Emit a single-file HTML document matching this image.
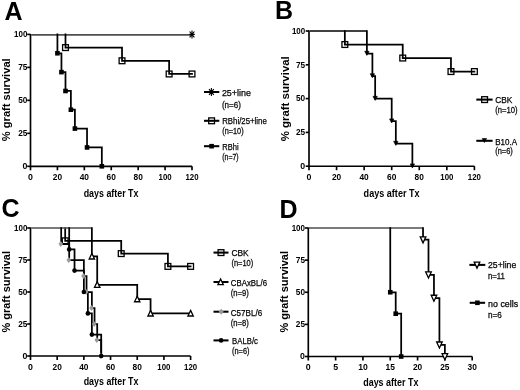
<!DOCTYPE html><html><head><meta charset="utf-8"><style>html,body{margin:0;padding:0;background:#fff;}svg{display:block;will-change:transform;filter:blur(0.4px);}text{font-family:"Liberation Sans",sans-serif;}</style></head><body>
<svg width="520" height="390" viewBox="0 0 520 390">
<rect width="520" height="390" fill="#fff"/>
<text x="4.4" y="20.2" font-size="25" font-weight="bold">A</text>
<path d="M30.5 33.9V166.3H192" stroke="#000" stroke-width="1.65" fill="none"/>
<path d="M27.2 166.3H30.5" stroke="#000" stroke-width="1.65"/>
<path d="M27.2 133.33H30.5" stroke="#000" stroke-width="1.65"/>
<path d="M27.2 100.35H30.5" stroke="#000" stroke-width="1.65"/>
<path d="M27.2 67.38H30.5" stroke="#000" stroke-width="1.65"/>
<path d="M27.2 34.4H30.5" stroke="#000" stroke-width="1.65"/>
<path d="M30.5 166.3V170.3" stroke="#000" stroke-width="1.65"/>
<path d="M57.42 166.3V170.3" stroke="#000" stroke-width="1.65"/>
<path d="M84.33 166.3V170.3" stroke="#000" stroke-width="1.65"/>
<path d="M111.25 166.3V170.3" stroke="#000" stroke-width="1.65"/>
<path d="M138.17 166.3V170.3" stroke="#000" stroke-width="1.65"/>
<path d="M165.08 166.3V170.3" stroke="#000" stroke-width="1.65"/>
<path d="M192 166.3V170.3" stroke="#000" stroke-width="1.65"/>
<text x="22.5" y="169.07" font-size="9.8" font-weight="bold" textLength="4.9" lengthAdjust="spacingAndGlyphs">0</text>
<text x="18.2" y="136.09" font-size="9.8" font-weight="bold" textLength="9.2" lengthAdjust="spacingAndGlyphs">25</text>
<text x="18.2" y="103.12" font-size="9.8" font-weight="bold" textLength="9.2" lengthAdjust="spacingAndGlyphs">50</text>
<text x="18.2" y="70.14" font-size="9.8" font-weight="bold" textLength="9.2" lengthAdjust="spacingAndGlyphs">75</text>
<text x="14.1" y="37.17" font-size="9.8" font-weight="bold" textLength="13.3" lengthAdjust="spacingAndGlyphs">100</text>
<text x="28.05" y="180.04" font-size="9.8" font-weight="bold" textLength="4.9" lengthAdjust="spacingAndGlyphs">0</text>
<text x="52.77" y="180.04" font-size="9.8" font-weight="bold" textLength="9.3" lengthAdjust="spacingAndGlyphs">20</text>
<text x="79.68" y="180.04" font-size="9.8" font-weight="bold" textLength="9.3" lengthAdjust="spacingAndGlyphs">40</text>
<text x="106.6" y="180.04" font-size="9.8" font-weight="bold" textLength="9.3" lengthAdjust="spacingAndGlyphs">60</text>
<text x="133.52" y="180.04" font-size="9.8" font-weight="bold" textLength="9.3" lengthAdjust="spacingAndGlyphs">80</text>
<text x="158.53" y="180.04" font-size="9.8" font-weight="bold" textLength="13.1" lengthAdjust="spacingAndGlyphs">100</text>
<text x="185.45" y="180.04" font-size="9.8" font-weight="bold" textLength="13.1" lengthAdjust="spacingAndGlyphs">120</text>
<text x="83.7" y="197" font-size="10" font-weight="bold" textLength="54.8" lengthAdjust="spacingAndGlyphs">days after Tx</text>
<text x="10.2" y="141.2" font-size="10.8" font-weight="bold" textLength="82.9" lengthAdjust="spacingAndGlyphs" transform="rotate(-90 10.2 141.2)">% graft survival</text>
<path d="M31.2 34.9H192" stroke="#4f4f4f" stroke-width="1.7" fill="none"/>
<path d="M65.49 34.4L65.49 47.59L122.02 47.59L122.02 60.78L169.12 60.78L169.12 73.97L192 73.97" stroke="#000" stroke-width="1.75" fill="none" stroke-linejoin="miter" stroke-linecap="square"/>
<path d="M57.42 34.4L57.42 53.26L61.45 53.26L61.45 72.12L65.49 72.12L65.49 90.99L70.88 90.99L70.88 109.71L74.91 109.71L74.91 128.58L87.03 128.58L87.03 147.44L101.83 147.44L101.83 166.3" stroke="#000" stroke-width="1.75" fill="none" stroke-linejoin="miter" stroke-linecap="square"/>
<path d="M192 30.4V38.4M189.2 34.4H194.8M189.6 31.5L194.4 37.3M194.4 31.5L189.6 37.3" stroke="#000" stroke-width="1.1" fill="none"/>
<circle cx="192" cy="34.4" r="1.1" fill="#000"/>
<rect x="62.59" y="44.69" width="5.8" height="5.8" fill="none" stroke="#000" stroke-width="1.3"/>
<rect x="119.12" y="57.88" width="5.8" height="5.8" fill="none" stroke="#000" stroke-width="1.3"/>
<rect x="166.22" y="71.07" width="5.8" height="5.8" fill="none" stroke="#000" stroke-width="1.3"/>
<rect x="189.1" y="71.07" width="5.8" height="5.8" fill="none" stroke="#000" stroke-width="1.3"/>
<rect x="55.12" y="50.96" width="4.6" height="4.6" fill="#000"/>
<rect x="59.15" y="69.82" width="4.6" height="4.6" fill="#000"/>
<rect x="63.19" y="88.69" width="4.6" height="4.6" fill="#000"/>
<rect x="68.58" y="107.41" width="4.6" height="4.6" fill="#000"/>
<rect x="72.61" y="126.28" width="4.6" height="4.6" fill="#000"/>
<rect x="84.73" y="145.14" width="4.6" height="4.6" fill="#000"/>
<rect x="99.53" y="164" width="4.6" height="4.6" fill="#000"/>
<path d="M204 92H219.3" stroke="#000" stroke-width="2.05"/>
<path d="M211.4 88V96M208.6 92H214.2M209 89.1L213.8 94.9M213.8 89.1L209 94.9" stroke="#000" stroke-width="1.1" fill="none"/>
<circle cx="211.4" cy="92" r="1.1" fill="#000"/>
<text x="221.9" y="95.6" font-size="9.4" textLength="29" lengthAdjust="spacingAndGlyphs" stroke="#000" stroke-width="0.25">25+line</text>
<text x="221.9" y="107.7" font-size="8.5" fill="#111" textLength="19" lengthAdjust="spacingAndGlyphs" stroke="#111" stroke-width="0.3">(n=6)</text>
<path d="M204 120.8H219.3" stroke="#000" stroke-width="2.05"/>
<rect x="208.7" y="117.9" width="5.8" height="5.8" fill="none" stroke="#000" stroke-width="1.3"/>
<text x="222.2" y="123.7" font-size="9.4" textLength="44.6" lengthAdjust="spacingAndGlyphs" stroke="#000" stroke-width="0.25">RBhi/25+line</text>
<text x="222.2" y="133.8" font-size="8.5" fill="#111" textLength="21.4" lengthAdjust="spacingAndGlyphs" stroke="#111" stroke-width="0.3">(n=10)</text>
<path d="M204 146.2H219.3" stroke="#000" stroke-width="2.05"/>
<rect x="209.3" y="143.9" width="4.6" height="4.6" fill="#000"/>
<text x="222.3" y="149.8" font-size="9.4" textLength="16.3" lengthAdjust="spacingAndGlyphs" stroke="#000" stroke-width="0.25">RBhi</text>
<text x="222.3" y="159.7" font-size="8.5" fill="#111" textLength="16.3" lengthAdjust="spacingAndGlyphs" stroke="#111" stroke-width="0.3">(n=7)</text>
<text x="275" y="19" font-size="25" font-weight="bold">B</text>
<path d="M309 30.5V166.2H474.4" stroke="#000" stroke-width="1.65" fill="none"/>
<path d="M305.7 166.2H309" stroke="#000" stroke-width="1.65"/>
<path d="M305.7 132.4H309" stroke="#000" stroke-width="1.65"/>
<path d="M305.7 98.6H309" stroke="#000" stroke-width="1.65"/>
<path d="M305.7 64.8H309" stroke="#000" stroke-width="1.65"/>
<path d="M305.7 31H309" stroke="#000" stroke-width="1.65"/>
<path d="M309 166.2V170.2" stroke="#000" stroke-width="1.65"/>
<path d="M336.57 166.2V170.2" stroke="#000" stroke-width="1.65"/>
<path d="M364.13 166.2V170.2" stroke="#000" stroke-width="1.65"/>
<path d="M391.7 166.2V170.2" stroke="#000" stroke-width="1.65"/>
<path d="M419.27 166.2V170.2" stroke="#000" stroke-width="1.65"/>
<path d="M446.83 166.2V170.2" stroke="#000" stroke-width="1.65"/>
<path d="M474.4 166.2V170.2" stroke="#000" stroke-width="1.65"/>
<text x="300.3" y="168.97" font-size="9.8" font-weight="bold" textLength="4.9" lengthAdjust="spacingAndGlyphs">0</text>
<text x="296" y="135.17" font-size="9.8" font-weight="bold" textLength="9.2" lengthAdjust="spacingAndGlyphs">25</text>
<text x="296" y="101.37" font-size="9.8" font-weight="bold" textLength="9.2" lengthAdjust="spacingAndGlyphs">50</text>
<text x="296" y="67.57" font-size="9.8" font-weight="bold" textLength="9.2" lengthAdjust="spacingAndGlyphs">75</text>
<text x="291.9" y="33.77" font-size="9.8" font-weight="bold" textLength="13.3" lengthAdjust="spacingAndGlyphs">100</text>
<text x="306.55" y="180.04" font-size="9.8" font-weight="bold" textLength="4.9" lengthAdjust="spacingAndGlyphs">0</text>
<text x="331.92" y="180.04" font-size="9.8" font-weight="bold" textLength="9.3" lengthAdjust="spacingAndGlyphs">20</text>
<text x="359.48" y="180.04" font-size="9.8" font-weight="bold" textLength="9.3" lengthAdjust="spacingAndGlyphs">40</text>
<text x="387.05" y="180.04" font-size="9.8" font-weight="bold" textLength="9.3" lengthAdjust="spacingAndGlyphs">60</text>
<text x="414.62" y="180.04" font-size="9.8" font-weight="bold" textLength="9.3" lengthAdjust="spacingAndGlyphs">80</text>
<text x="440.28" y="180.04" font-size="9.8" font-weight="bold" textLength="13.1" lengthAdjust="spacingAndGlyphs">100</text>
<text x="467.85" y="180.04" font-size="9.8" font-weight="bold" textLength="13.1" lengthAdjust="spacingAndGlyphs">120</text>
<text x="363.6" y="196.8" font-size="10" font-weight="bold" textLength="56" lengthAdjust="spacingAndGlyphs">days after Tx</text>
<text x="288.6" y="141.3" font-size="10.8" font-weight="bold" textLength="85.1" lengthAdjust="spacingAndGlyphs" transform="rotate(-90 288.6 141.3)">% graft survival</text>
<path d="M344.84 31L344.84 44.52L402.73 44.52L402.73 58.04L450.97 58.04L450.97 71.56L474.4 71.56" stroke="#000" stroke-width="1.75" fill="none" stroke-linejoin="miter" stroke-linecap="square"/>
<path d="M309.7 31H366.89" stroke="#000" stroke-width="1.3" fill="none"/>
<path d="M366.89 31L366.89 53.58L372.4 53.58L372.4 76.02L375.16 76.02L375.16 98.6L391.7 98.6L391.7 121.18L395.83 121.18L395.83 143.62L412.38 143.62L412.38 166.2" stroke="#000" stroke-width="1.75" fill="none" stroke-linejoin="miter" stroke-linecap="square"/>
<rect x="341.94" y="41.62" width="5.8" height="5.8" fill="none" stroke="#000" stroke-width="1.3"/>
<rect x="399.83" y="55.14" width="5.8" height="5.8" fill="none" stroke="#000" stroke-width="1.3"/>
<rect x="448.07" y="68.66" width="5.8" height="5.8" fill="none" stroke="#000" stroke-width="1.3"/>
<rect x="471.5" y="68.66" width="5.8" height="5.8" fill="none" stroke="#000" stroke-width="1.3"/>
<path d="M364.69 51.28H369.09L366.89 55.38Z" fill="#000" stroke="#000" stroke-width="0.6"/>
<path d="M370.2 73.72H374.6L372.4 77.82Z" fill="#000" stroke="#000" stroke-width="0.6"/>
<path d="M372.96 96.3H377.36L375.16 100.4Z" fill="#000" stroke="#000" stroke-width="0.6"/>
<path d="M389.5 118.88H393.9L391.7 122.98Z" fill="#000" stroke="#000" stroke-width="0.6"/>
<path d="M393.63 141.32H398.03L395.83 145.42Z" fill="#000" stroke="#000" stroke-width="0.6"/>
<path d="M410.18 163.9H414.57L412.38 168Z" fill="#000" stroke="#000" stroke-width="0.6"/>
<path d="M476.3 99.6H492.6" stroke="#000" stroke-width="2.05"/>
<rect x="481.7" y="96.7" width="5.8" height="5.8" fill="none" stroke="#000" stroke-width="1.3"/>
<text x="495.2" y="103.1" font-size="9.4" textLength="17.1" lengthAdjust="spacingAndGlyphs" stroke="#000" stroke-width="0.25">CBK</text>
<text x="495.2" y="113.2" font-size="8.5" fill="#111" textLength="22.4" lengthAdjust="spacingAndGlyphs" stroke="#111" stroke-width="0.3">(n=10)</text>
<path d="M476.3 140.8H492.6" stroke="#000" stroke-width="2.05"/>
<path d="M482.2 138.5H486.6L484.4 142.6Z" fill="#000" stroke="#000" stroke-width="0.6"/>
<text x="495.2" y="144.5" font-size="9.4" textLength="21.9" lengthAdjust="spacingAndGlyphs" stroke="#000" stroke-width="0.25">B10.A</text>
<text x="495.2" y="154.4" font-size="8.5" fill="#111" textLength="17.6" lengthAdjust="spacingAndGlyphs" stroke="#111" stroke-width="0.3">(n=6)</text>
<text x="1.6" y="217.3" font-size="25" font-weight="bold">C</text>
<path d="M30.5 227.5V356H190.6" stroke="#000" stroke-width="1.65" fill="none"/>
<path d="M27.2 356H30.5" stroke="#000" stroke-width="1.65"/>
<path d="M27.2 324H30.5" stroke="#000" stroke-width="1.65"/>
<path d="M27.2 292H30.5" stroke="#000" stroke-width="1.65"/>
<path d="M27.2 260H30.5" stroke="#000" stroke-width="1.65"/>
<path d="M27.2 228H30.5" stroke="#000" stroke-width="1.65"/>
<path d="M30.5 356V360" stroke="#000" stroke-width="1.65"/>
<path d="M57.18 356V360" stroke="#000" stroke-width="1.65"/>
<path d="M83.87 356V360" stroke="#000" stroke-width="1.65"/>
<path d="M110.55 356V360" stroke="#000" stroke-width="1.65"/>
<path d="M137.23 356V360" stroke="#000" stroke-width="1.65"/>
<path d="M163.92 356V360" stroke="#000" stroke-width="1.65"/>
<path d="M190.6 356V360" stroke="#000" stroke-width="1.65"/>
<text x="22.5" y="358.77" font-size="9.8" font-weight="bold" textLength="4.9" lengthAdjust="spacingAndGlyphs">0</text>
<text x="18.2" y="326.77" font-size="9.8" font-weight="bold" textLength="9.2" lengthAdjust="spacingAndGlyphs">25</text>
<text x="18.2" y="294.77" font-size="9.8" font-weight="bold" textLength="9.2" lengthAdjust="spacingAndGlyphs">50</text>
<text x="18.2" y="262.77" font-size="9.8" font-weight="bold" textLength="9.2" lengthAdjust="spacingAndGlyphs">75</text>
<text x="14.1" y="230.77" font-size="9.8" font-weight="bold" textLength="13.3" lengthAdjust="spacingAndGlyphs">100</text>
<text x="28.05" y="369.94" font-size="9.8" font-weight="bold" textLength="4.9" lengthAdjust="spacingAndGlyphs">0</text>
<text x="52.53" y="369.94" font-size="9.8" font-weight="bold" textLength="9.3" lengthAdjust="spacingAndGlyphs">20</text>
<text x="79.22" y="369.94" font-size="9.8" font-weight="bold" textLength="9.3" lengthAdjust="spacingAndGlyphs">40</text>
<text x="105.9" y="369.94" font-size="9.8" font-weight="bold" textLength="9.3" lengthAdjust="spacingAndGlyphs">60</text>
<text x="132.58" y="369.94" font-size="9.8" font-weight="bold" textLength="9.3" lengthAdjust="spacingAndGlyphs">80</text>
<text x="157.37" y="369.94" font-size="9.8" font-weight="bold" textLength="13.1" lengthAdjust="spacingAndGlyphs">100</text>
<text x="184.05" y="369.94" font-size="9.8" font-weight="bold" textLength="13.1" lengthAdjust="spacingAndGlyphs">120</text>
<text x="83.7" y="384.9" font-size="10" font-weight="bold" textLength="54.8" lengthAdjust="spacingAndGlyphs">days after Tx</text>
<text x="10.5" y="332.4" font-size="10.8" font-weight="bold" textLength="81.35" lengthAdjust="spacingAndGlyphs" transform="rotate(-90 10.5 332.4)">% graft survival</text>
<path d="M65.19 228L65.19 240.8L121.22 240.8L121.22 253.6L167.92 253.6L167.92 266.4L190.6 266.4" stroke="#000" stroke-width="1.75" fill="none" stroke-linejoin="miter" stroke-linecap="square"/>
<path d="M31.2 228H91.87" stroke="#4f4f4f" stroke-width="1.7" fill="none"/>
<path d="M91.87 228L91.87 256.42L97.21 256.42L97.21 284.83L137.23 284.83L137.23 299.17L150.57 299.17L150.57 313.38L190.6 313.38" stroke="#000" stroke-width="1.75" fill="none" stroke-linejoin="miter" stroke-linecap="square"/>
<path d="M61.19 228L61.19 244L69.19 244L69.19 260L83.87 260L83.87 276L86.53 276L86.53 292L91.87 292L91.87 308L94.54 308L94.54 324L97.21 324L97.21 340L101.21 340L101.21 356" stroke="#000" stroke-width="1.75" fill="none" stroke-linejoin="miter" stroke-linecap="square"/>
<path d="M69.19 228L69.19 249.38L74.53 249.38L74.53 270.62L83.87 270.62L83.87 292L87.87 292L87.87 313.38L91.87 313.38L91.87 334.62L101.21 334.62L101.21 356" stroke="#000" stroke-width="1.75" fill="none" stroke-linejoin="miter" stroke-linecap="square"/>
<rect x="62.29" y="237.9" width="5.8" height="5.8" fill="none" stroke="#000" stroke-width="1.3"/>
<rect x="118.32" y="250.7" width="5.8" height="5.8" fill="none" stroke="#000" stroke-width="1.3"/>
<rect x="165.02" y="263.5" width="5.8" height="5.8" fill="none" stroke="#000" stroke-width="1.3"/>
<rect x="187.7" y="263.5" width="5.8" height="5.8" fill="none" stroke="#000" stroke-width="1.3"/>
<path d="M91.87 253.42L94.57 259.02H89.17Z" fill="#fff" stroke="#000" stroke-width="1.3" stroke-linejoin="miter"/>
<path d="M97.21 281.83L99.91 287.43H94.51Z" fill="#fff" stroke="#000" stroke-width="1.3" stroke-linejoin="miter"/>
<path d="M137.23 296.17L139.93 301.77H134.53Z" fill="#fff" stroke="#000" stroke-width="1.3" stroke-linejoin="miter"/>
<path d="M150.57 310.38L153.27 315.98H147.88Z" fill="#fff" stroke="#000" stroke-width="1.3" stroke-linejoin="miter"/>
<path d="M190.6 310.38L193.3 315.98H187.9Z" fill="#fff" stroke="#000" stroke-width="1.3" stroke-linejoin="miter"/>
<path d="M60.79 241L63.09 244L60.79 247L58.49 244Z" fill="#999"/>
<path d="M68.79 257L71.09 260L68.79 263L66.49 260Z" fill="#999"/>
<path d="M83.47 273L85.77 276L83.47 279L81.17 276Z" fill="#999"/>
<path d="M86.13 289L88.44 292L86.13 295L83.83 292Z" fill="#999"/>
<path d="M91.47 305L93.77 308L91.47 311L89.17 308Z" fill="#999"/>
<path d="M94.14 321L96.44 324L94.14 327L91.84 324Z" fill="#999"/>
<path d="M96.81 337L99.11 340L96.81 343L94.51 340Z" fill="#999"/>
<path d="M100.81 353L103.11 356L100.81 359L98.51 356Z" fill="#999"/>
<circle cx="69.19" cy="249.38" r="2.3" fill="#000"/>
<circle cx="74.53" cy="270.62" r="2.3" fill="#000"/>
<circle cx="83.87" cy="292" r="2.3" fill="#000"/>
<circle cx="87.87" cy="313.38" r="2.3" fill="#000"/>
<circle cx="91.87" cy="334.62" r="2.3" fill="#000"/>
<circle cx="101.21" cy="356" r="2.3" fill="#000"/>
<path d="M213.5 252.6H228.5" stroke="#000" stroke-width="2.05"/>
<rect x="218.1" y="249.7" width="5.8" height="5.8" fill="none" stroke="#000" stroke-width="1.3"/>
<text x="231.4" y="256.1" font-size="9.4" textLength="17.3" lengthAdjust="spacingAndGlyphs" stroke="#000" stroke-width="0.25">CBK</text>
<text x="231.4" y="266.1" font-size="8.5" fill="#111" textLength="21.8" lengthAdjust="spacingAndGlyphs" stroke="#111" stroke-width="0.3">(n=10)</text>
<path d="M213.5 282H228.5" stroke="#000" stroke-width="2.05"/>
<path d="M220.6 279L223.3 284.6H217.9Z" fill="#fff" stroke="#000" stroke-width="1.3" stroke-linejoin="miter"/>
<text x="230.8" y="285.9" font-size="9.4" textLength="36.2" lengthAdjust="spacingAndGlyphs" stroke="#000" stroke-width="0.25">CBAxBL/6</text>
<text x="230.8" y="295.8" font-size="8.5" fill="#111" textLength="18" lengthAdjust="spacingAndGlyphs" stroke="#111" stroke-width="0.3">(n=9)</text>
<path d="M213.5 311.7H228.5" stroke="#000" stroke-width="2.05"/>
<path d="M221.2 308.8L223.7 311.8L221.2 314.8L218.7 311.8Z" fill="#999"/>
<text x="230.8" y="316.3" font-size="9.4" textLength="31.4" lengthAdjust="spacingAndGlyphs" stroke="#000" stroke-width="0.25">C57BL/6</text>
<text x="230.8" y="326.2" font-size="8.5" fill="#111" textLength="18" lengthAdjust="spacingAndGlyphs" stroke="#111" stroke-width="0.3">(n=8)</text>
<path d="M213.5 340.4H228.5" stroke="#000" stroke-width="2.05"/>
<circle cx="221.1" cy="340.4" r="2.3" fill="#000"/>
<text x="232.1" y="343.8" font-size="9.4" textLength="25.9" lengthAdjust="spacingAndGlyphs" stroke="#000" stroke-width="0.25">BALB/c</text>
<text x="232.1" y="353.7" font-size="8.5" fill="#111" textLength="17.3" lengthAdjust="spacingAndGlyphs" stroke="#111" stroke-width="0.3">(n=6)</text>
<text x="279.4" y="217.5" font-size="25" font-weight="bold">D</text>
<path d="M308.3 227.5V356.5H472.2" stroke="#000" stroke-width="1.65" fill="none"/>
<path d="M305 356.5H308.3" stroke="#000" stroke-width="1.65"/>
<path d="M305 324.38H308.3" stroke="#000" stroke-width="1.65"/>
<path d="M305 292.25H308.3" stroke="#000" stroke-width="1.65"/>
<path d="M305 260.12H308.3" stroke="#000" stroke-width="1.65"/>
<path d="M305 228H308.3" stroke="#000" stroke-width="1.65"/>
<path d="M308.3 356.5V360.5" stroke="#000" stroke-width="1.65"/>
<path d="M335.62 356.5V360.5" stroke="#000" stroke-width="1.65"/>
<path d="M362.93 356.5V360.5" stroke="#000" stroke-width="1.65"/>
<path d="M390.25 356.5V360.5" stroke="#000" stroke-width="1.65"/>
<path d="M417.57 356.5V360.5" stroke="#000" stroke-width="1.65"/>
<path d="M444.88 356.5V360.5" stroke="#000" stroke-width="1.65"/>
<path d="M472.2 356.5V360.5" stroke="#000" stroke-width="1.65"/>
<text x="300.1" y="359.27" font-size="9.8" font-weight="bold" textLength="4.9" lengthAdjust="spacingAndGlyphs">0</text>
<text x="295.8" y="327.14" font-size="9.8" font-weight="bold" textLength="9.2" lengthAdjust="spacingAndGlyphs">25</text>
<text x="295.8" y="295.02" font-size="9.8" font-weight="bold" textLength="9.2" lengthAdjust="spacingAndGlyphs">50</text>
<text x="295.8" y="262.89" font-size="9.8" font-weight="bold" textLength="9.2" lengthAdjust="spacingAndGlyphs">75</text>
<text x="291.7" y="230.77" font-size="9.8" font-weight="bold" textLength="13.3" lengthAdjust="spacingAndGlyphs">100</text>
<text x="305.85" y="370.04" font-size="9.8" font-weight="bold" textLength="4.9" lengthAdjust="spacingAndGlyphs">0</text>
<text x="333.17" y="370.04" font-size="9.8" font-weight="bold" textLength="4.9" lengthAdjust="spacingAndGlyphs">5</text>
<text x="358.13" y="370.04" font-size="9.8" font-weight="bold" textLength="9.6" lengthAdjust="spacingAndGlyphs">10</text>
<text x="385.55" y="370.04" font-size="9.8" font-weight="bold" textLength="9.4" lengthAdjust="spacingAndGlyphs">15</text>
<text x="412.92" y="370.04" font-size="9.8" font-weight="bold" textLength="9.3" lengthAdjust="spacingAndGlyphs">20</text>
<text x="440.23" y="370.04" font-size="9.8" font-weight="bold" textLength="9.3" lengthAdjust="spacingAndGlyphs">25</text>
<text x="467.55" y="370.04" font-size="9.8" font-weight="bold" textLength="9.3" lengthAdjust="spacingAndGlyphs">30</text>
<text x="363.2" y="385.9" font-size="10" font-weight="bold" textLength="55.2" lengthAdjust="spacingAndGlyphs">days after Tx</text>
<text x="287.8" y="332.4" font-size="10.8" font-weight="bold" textLength="81.35" lengthAdjust="spacingAndGlyphs" transform="rotate(-90 287.8 332.4)">% graft survival</text>
<path d="M309 228H423.03" stroke="#4f4f4f" stroke-width="1.7" fill="none"/>
<path d="M423.03 228L423.03 239.69L428.49 239.69L428.49 274.77L433.96 274.77L433.96 298.03L439.42 298.03L439.42 344.81L444.88 344.81L444.88 356.5" stroke="#000" stroke-width="1.75" fill="none" stroke-linejoin="miter" stroke-linecap="square"/>
<path d="M390.25 228L390.25 292.25L395.71 292.25L395.71 313.71L401.18 313.71L401.18 356.5" stroke="#000" stroke-width="1.75" fill="none" stroke-linejoin="miter" stroke-linecap="square"/>
<path d="M420.23 236.89H425.83L423.03 242.89Z" fill="#fff" stroke="#000" stroke-width="1.3"/>
<path d="M425.69 271.97H431.29L428.49 277.97Z" fill="#fff" stroke="#000" stroke-width="1.3"/>
<path d="M431.16 295.23H436.76L433.96 301.23Z" fill="#fff" stroke="#000" stroke-width="1.3"/>
<path d="M436.62 342.01H442.22L439.42 348.01Z" fill="#fff" stroke="#000" stroke-width="1.3"/>
<path d="M442.08 353.7H447.68L444.88 359.7Z" fill="#fff" stroke="#000" stroke-width="1.3"/>
<rect x="387.95" y="289.95" width="4.6" height="4.6" fill="#000"/>
<rect x="393.41" y="311.41" width="4.6" height="4.6" fill="#000"/>
<rect x="398.88" y="354.2" width="4.6" height="4.6" fill="#000"/>
<path d="M469.4 264.9H485.3" stroke="#000" stroke-width="2.05"/>
<path d="M474.2 262.1H479.8L477 268.1Z" fill="#fff" stroke="#000" stroke-width="1.3"/>
<text x="488" y="268.1" font-size="9.4" textLength="28.2" lengthAdjust="spacingAndGlyphs" stroke="#000" stroke-width="0.25">25+line</text>
<text x="488" y="279.3" font-size="8.5" fill="#111" textLength="16.9" lengthAdjust="spacingAndGlyphs" stroke="#111" stroke-width="0.3">n=11</text>
<path d="M469.7 302.8H485.1" stroke="#000" stroke-width="2.05"/>
<rect x="475.1" y="300.5" width="4.6" height="4.6" fill="#000"/>
<text x="488.1" y="306.5" font-size="9.4" textLength="30" lengthAdjust="spacingAndGlyphs" stroke="#000" stroke-width="0.25">no cells</text>
<text x="488.1" y="318" font-size="8.5" fill="#111" textLength="13.7" lengthAdjust="spacingAndGlyphs" stroke="#111" stroke-width="0.3">n=6</text>
</svg></body></html>
